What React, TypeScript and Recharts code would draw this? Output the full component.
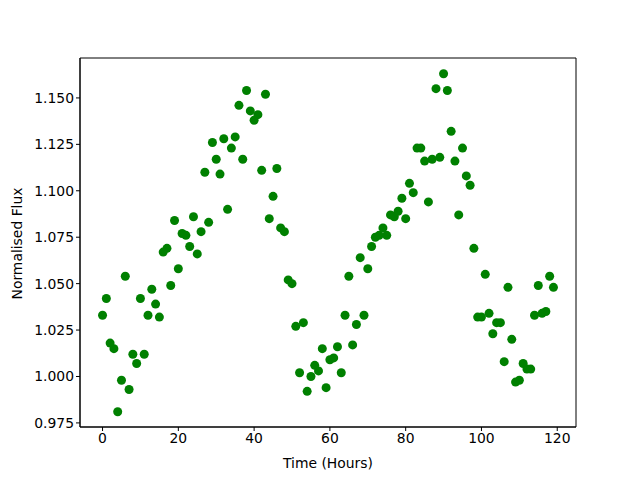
import { ScatterChart, Scatter, XAxis, YAxis, ReferenceArea } from "recharts"

// one reading per hour, hours 0..119
const hours = Array.from({ length: 120 }, (_, i) => i)

const flux = [
  1.033, 1.042, 1.018, 1.015, 0.981, 0.998, 1.054, 0.993, 1.012, 1.007,
  1.042, 1.012, 1.033, 1.047, 1.039, 1.032, 1.067, 1.069, 1.049, 1.084,
  1.058, 1.077, 1.076, 1.070, 1.086, 1.066, 1.078, 1.110, 1.083, 1.126,
  1.117, 1.109, 1.128, 1.090, 1.123, 1.129, 1.146, 1.117, 1.154, 1.143,
  1.138, 1.141, 1.111, 1.152, 1.085, 1.097, 1.112, 1.080, 1.078, 1.052,
  1.050, 1.027, 1.002, 1.029, 0.992, 1.000, 1.006, 1.003, 1.015, 0.994,
  1.009, 1.010, 1.016, 1.002, 1.033, 1.054, 1.017, 1.028, 1.064, 1.033,
  1.058, 1.070, 1.075, 1.076, 1.080, 1.076, 1.087, 1.086, 1.089, 1.096,
  1.085, 1.104, 1.099, 1.123, 1.123, 1.116, 1.094, 1.117, 1.155, 1.118,
  1.163, 1.154, 1.132, 1.116, 1.087, 1.123, 1.108, 1.103, 1.069, 1.032,
  1.032, 1.055, 1.034, 1.023, 1.029, 1.029, 1.008, 1.048, 1.020, 0.997,
  0.998, 1.007, 1.004, 1.004, 1.033, 1.049, 1.034, 1.035, 1.054, 1.048,
]

const xTicks = [0, 20, 40, 60, 80, 100, 120]
const yTicks = [0.975, 1.0, 1.025, 1.05, 1.075, 1.1, 1.125, 1.15]

const X_DOMAIN: [number, number] = [-5.95, 124.95]
const Y_DOMAIN: [number, number] = [0.9728, 1.1715]

const data = hours.map((h, i) => ({ time: h, flux: flux[i] }))

const font = "'DejaVu Sans', sans-serif"

const Dot = (props: any) => {
  const { cx, cy } = props
  if (cx == null || cy == null) return null
  return <circle cx={cx} cy={cy} r={4.5} fill="#008000" />
}

export default function App() {
  return (
    <div style={{ position: "absolute", left: 0, top: 0, width: 640, height: 480, background: "#fff" }}>
      <ScatterChart
        width={640}
        height={480}
        margin={{ top: 58, right: 64, bottom: 0, left: 0 }}
      >
        <XAxis
          type="number"
          dataKey="time"
          domain={X_DOMAIN}
          ticks={xTicks}
          allowDataOverflow
          height={53}
          stroke="#000"
          tickSize={4}
          tick={{ fill: "#000", fontSize: 13.9, fontFamily: font }}
          label={{ value: "Time (Hours)", position: "insideBottom", offset: 12, fill: "#000", fontSize: 13.9, fontFamily: font }}
        />
        <YAxis
          type="number"
          dataKey="flux"
          domain={Y_DOMAIN}
          ticks={yTicks}
          allowDataOverflow
          width={80}
          stroke="#000"
          tickSize={4}
          tickFormatter={(v: number) => v.toFixed(3)}
          tick={{ fill: "#000", fontSize: 13.9, fontFamily: font }}
          label={{ value: "Normalised Flux", angle: -90, position: "insideLeft", offset: 17, dy: 57, fill: "#000", fontSize: 13.9, fontFamily: font }}
        />
        <ReferenceArea
          x1={X_DOMAIN[0]}
          x2={X_DOMAIN[1]}
          y1={Y_DOMAIN[0]}
          y2={Y_DOMAIN[1]}
          fill="none"
          stroke="#000"
          strokeWidth={1}
          ifOverflow="extendDomain"
        />
        <Scatter data={data} shape={<Dot />} isAnimationActive={false} />
      </ScatterChart>
    </div>
  )
}
